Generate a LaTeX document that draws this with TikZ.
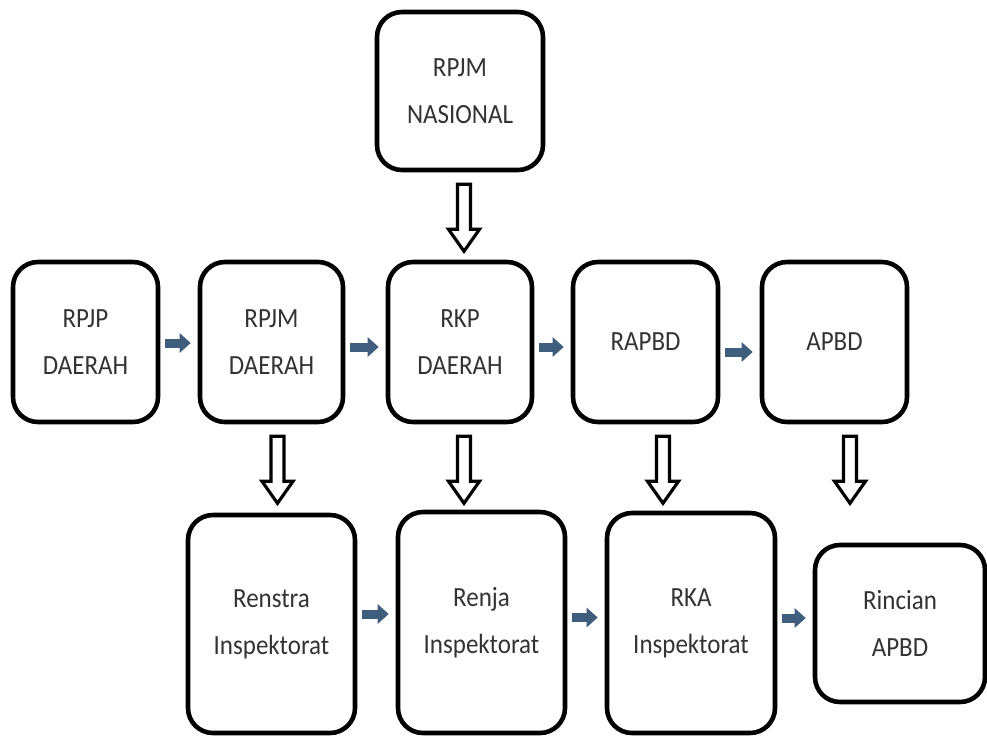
\documentclass[tikz,border=0pt]{standalone}
\usepackage{fontspec}
\setmainfont[FakeStretch=0.9]{Carlito}
\usetikzlibrary{arrows.meta, calc}
\definecolor{flowblue}{HTML}{3F5E7E}

\begin{document}
\begin{tikzpicture}[
	box/.style={draw, line width=1.3pt, rounded corners=0.25cm, align=center, inner sep=0pt,
		text=black!80, font=\fontsize{7.9}{13.3}\selectfont},
	flow/.style={flowblue, line width=0.09cm, -{Triangle[length=0.11cm, width=0.19cm]},
		shorten <=0.05cm, shorten >=0.07cm},
	hollow/.style={draw, line width=0.9pt, fill=white}
	]
	\useasboundingbox (0,0) rectangle (9.87,7.35);
	%Top box
	\node[box, minimum width=1.66cm, minimum height=1.58cm] (nas) at (4.60,6.44) {RPJM\\NASIONAL};
	%Middle row
	\node[box, minimum width=1.45cm, minimum height=1.60cm] (rpjp) at (0.855,3.93) {RPJP\\DAERAH};
	\node[box, minimum width=1.43cm, minimum height=1.60cm] (rpjmd) at (2.715,3.93) {RPJM\\DAERAH};
	\node[box, minimum width=1.44cm, minimum height=1.60cm] (rkp) at (4.60,3.93) {RKP\\DAERAH};
	\node[box, minimum width=1.45cm, minimum height=1.60cm] (rapbd) at (6.455,3.93) {RAPBD};
	\node[box, minimum width=1.45cm, minimum height=1.60cm] (apbd) at (8.345,3.93) {APBD};
	% Bottom row
	\node[box, minimum width=1.67cm, minimum height=2.18cm] (renstra) at (2.715,1.11) {Renstra\\Inspektorat};
	\node[box, minimum width=1.67cm, minimum height=2.21cm] (renja) at (4.815,1.125) {Renja\\Inspektorat};
	\node[box, minimum width=1.68cm, minimum height=2.20cm] (rka) at (6.91,1.12) {RKA\\Inspektorat};
	\node[box, minimum width=1.70cm, minimum height=1.57cm] (rincian) at (9.00,1.115) {Rincian\\APBD};
	% Arrows along the rows
	\foreach \a/\b/\s in {rpjp/rpjmd/-0.01, rpjmd/rkp/-0.05, rkp/rapbd/-0.05, rapbd/apbd/-0.10,
		renstra/renja/0.10, renja/rka/0.05, rka/rincian/0.05}
		\draw[flow] ([yshift=\s cm]\a.east) coordinate (s) -- (s -| \b.west);
	% Hollow arrows going down
	\foreach \a/\dx in {nas/0.04, rpjmd/0.06, rkp/0.04, rapbd/0.175, apbd/0.155} {
		\coordinate (top) at ([xshift=\dx cm, yshift=-0.12cm]\a.south);
		\draw[hollow] ($(top)+(-0.065,0)$) -- ($(top)+(0.065,0)$) -- ++(0,-0.45) -- ++(0.09,0)
			-- ($(top)+(0,-0.67)$) -- ($(top)+(-0.155,-0.45)$) -- ++(0.09,0) -- cycle;
	}
\end{tikzpicture}
\end{document}
